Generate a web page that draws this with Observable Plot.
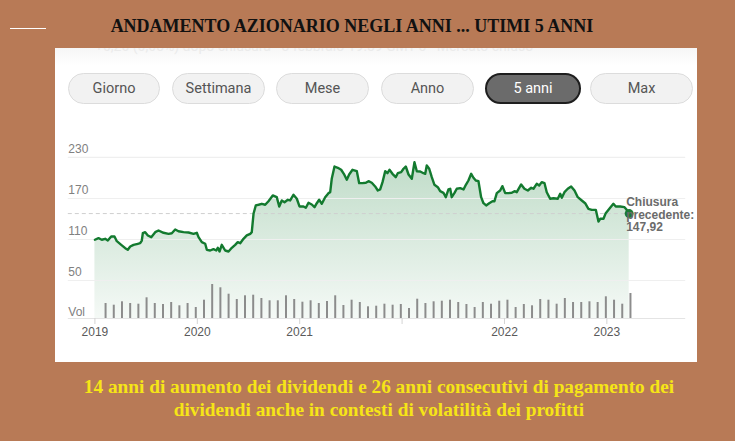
<!DOCTYPE html>
<html><head><meta charset="utf-8">
<script src="https://cdn.jsdelivr.net/npm/d3@7"></script>
<script src="https://cdn.jsdelivr.net/npm/@observablehq/plot@0.6"></script>
<style>
html,body{margin:0;padding:0;}
body{width:735px;height:441px;overflow:hidden;background:#b87a56;position:relative;}
#title{position:absolute;left:0;width:704px;top:16px;line-height:22px;text-align:center;font:bold 18px "Liberation Serif",serif;color:#111;}
#dash{position:absolute;left:10px;top:28px;width:36px;height:1px;background:#fff;}
#panel{position:absolute;left:55px;top:48px;width:642px;height:314px;background:linear-gradient(#f6f6f6 0px,#ffffff 18px);overflow:hidden;}
#faint{position:absolute;left:40px;top:-10px;font:14px Roboto,sans-serif;color:#ebebeb;white-space:nowrap;}
.pill{position:absolute;top:25px;height:31px;border:1px solid #dcdcdc;border-radius:16px;background:#f2f2f2;font:14.5px Roboto,sans-serif;color:#555;display:flex;align-items:center;justify-content:center;box-sizing:border-box;}
.pill.on{background:#6b6b6b;border:2px solid #1e1e1e;color:#fff;}
#chart{position:absolute;left:0;top:82px;}
#caption{position:absolute;left:0;width:758px;top:375px;text-align:center;font:bold 19.3px "Liberation Serif",serif;color:#f6e516;line-height:23px;}
</style></head>
<body>
<div id="dash"></div>
<div id="title">ANDAMENTO AZIONARIO NEGLI ANNI ... UTIMI 5 ANNI</div>
<div id="panel">
  <div id="faint">+0,20 (0,05%) dopo chiusura · 3 febbraio 19:59 GMT-5 · Mercato chiuso</div>
  <div id="pills"></div>
  <div id="chart"></div>
</div>
<div id="caption">14 anni di aumento dei dividendi e 26 anni consecutivi di pagamento dei<br>dividendi anche in contesti di volatilità dei profitti</div>
<script>
// ---- data ----
const ranges = ["Giorno","Settimana","Mese","Anno","5 anni","Max"];
const activeRange = "5 anni";
const yTicks = [50, 110, 170, 230];
const xTickPos = [0, 1, 2, 3, 4, 5];
const xTickLabels = ["2019", "2020", "2021", "", "2022", "2023"];
// time in years from the first tick
const priceT = [0,0.035,0.067,0.10,0.126,0.159,0.191,0.214,0.257,0.296,0.321,0.345,0.377,0.419,0.442,0.458,0.468,0.491,0.517,0.55,0.589,0.621,0.67,0.719,0.751,0.784,0.816,0.865,0.914,0.963,0.995,1.012,1.044,1.077,1.093,1.126,1.158,1.185,1.20,1.217,1.239,1.272,1.305,1.337,1.37,1.395,1.419,1.451,1.483,1.517,1.532,1.549,1.571,1.598,1.63,1.663,1.695,1.737,1.776,1.80,1.825,1.852,1.884,1.907,1.939,1.972,1.998,2.037,2.06,2.086,2.118,2.145,2.167,2.19,2.216,2.249,2.281,2.298,2.313,2.34,2.372,2.405,2.431,2.46,2.483,2.516,2.558,2.581,2.613,2.646,2.672,2.704,2.737,2.763,2.786,2.809,2.835,2.857,2.877,2.906,2.938,2.958,2.991,3.014,3.036,3.063,3.095,3.121,3.144,3.177,3.209,3.226,3.241,3.265,3.29,3.316,3.349,3.372,3.404,3.427,3.453,3.47,3.485,3.512,3.534,3.567,3.60,3.623,3.648,3.675,3.697,3.72,3.746,3.772,3.795,3.821,3.851,3.883,3.902,3.925,3.958,3.98,4.007,4.039,4.071,4.098,4.12,4.163,4.195,4.228,4.261,4.283,4.315,4.339,4.364,4.391,4.413,4.446,4.479,4.521,4.544,4.56,4.586,4.618,4.651,4.684,4.716,4.755,4.788,4.82,4.853,4.892,4.918,4.935,4.967,4.989,5.032,5.064,5.087,5.13,5.172,5.194,5.204,5.218];
const priceV = [109.6,111.9,109.6,111,108.5,114.4,114.4,107.5,102.2,97.3,94.9,99.8,102.2,103.7,104.6,108.5,119.2,120.7,115.9,113.4,120.7,123.2,119.8,118.3,119.2,124.6,122.1,120.7,120.2,118.3,119.8,113.4,106.1,103.7,94.9,93.9,95.8,93.9,97.8,92.4,102.2,93.9,92.4,97.8,102.2,106.1,104.6,111,115.9,118.3,120.7,147.6,159.8,160.8,162.2,160.8,166,174.4,171.9,158.3,167.1,164.6,168.1,167.1,175.4,169.6,158.3,158.3,156.4,163.7,161.2,157.3,163.1,168.1,162.2,171.9,177.8,179.2,198.8,216.8,214.9,212,206.1,197.4,205.1,212,209.9,192.4,192.4,193,195.3,193,187.6,181.7,183.2,193.9,209.9,207,212,206.1,201.2,207,208.5,213.5,216.8,205.1,198.8,223.1,209.9,209.5,207,206.1,218.3,213.5,201.2,190,186.5,180.7,178.3,171.9,183.2,184.2,171.9,178.3,184.2,185.1,183.2,190,196.3,206.1,200.3,196.3,195.3,171.9,163.1,159.8,163.1,166,166,177.8,181.7,188,177.8,177.8,178.3,180.7,179.2,190.5,184.2,181.7,185.7,184.2,191.5,189,193.9,192.4,179.2,169.6,170.4,169.6,176.8,171,179.2,184.2,187.6,181.7,171.9,167.1,163.1,154.9,153.4,153.4,136.3,140.3,140.3,148.5,156.4,162.2,158.3,158.3,157.3,153.4,145.1,147.92];
// monthly volume (relative units)
const volStart = 0.104, volStep = 0.0801;
const volume = [15,13.3,16.7,15,14.3,20.7,15,14,16,12.7,15,11,18.3,34,30.7,24.3,19,22.7,23.3,20,17.7,17.7,22.7,19,16.3,17.7,15,17,22.7,13,18.3,16,11.7,12.3,14.3,13.3,14,10,19.3,15,16.7,17.3,18.3,16,14,11,16,14.3,17.3,18.3,11,14,12.7,19,18.3,14.3,20,16,16,16.7,16,21.7,18.3,14.3,25];
const lastClose = 147.92;
const lastCloseLabel = "Chiusura\nprecedente:\n147,92";

// ---- pills ----
const pillBoxes = [[13,92],[117,93],[221,93],[326,93],[430,96],[535,103]];
const pills = document.getElementById("pills");
ranges.forEach((r,i)=>{
  const d = document.createElement("div");
  d.className = "pill" + (r===activeRange ? " on" : "");
  d.style.left = pillBoxes[i][0]+"px"; d.style.width = pillBoxes[i][1]+"px";
  d.textContent = r; pills.appendChild(d);
});

// ---- chart ----
const price = priceT.map((t,i)=>({t, v: priceV[i]}));
const vols = volume.map((v,i)=>({t: volStart + i*volStep, v}));
const yBase = -5.6, volK = 1.4634;
const lastT = priceT[priceT.length-1];

const defs = () => {
  const s = d3.create("svg:defs");
  const g = s.append("linearGradient").attr("id","areaGrad").attr("x1",0).attr("y1",0).attr("x2",0).attr("y2",1);
  g.append("stop").attr("offset","0%").attr("stop-color","#2e8b4a").attr("stop-opacity",0.3);
  g.append("stop").attr("offset","100%").attr("stop-color","#2e8b4a").attr("stop-opacity",0.05);
  return s.node();
};

const chart = Plot.plot({
  width: 642, height: 218,
  marginLeft: 12.8, marginRight: 11.8, marginTop: 13.3, marginBottom: 30,
  x: {domain: [-0.26, 5.77]},
  y: {domain: [yBase, 250], axis: null},
  style: {background: "transparent", fontFamily: "'Liberation Sans', Arial, sans-serif"},
  marks: [
    defs,
    Plot.areaY(price, {x: "t", y1: yBase, y2: "v", fill: "url(#areaGrad)", curve: "linear"}),
    Plot.ruleY(yTicks, {stroke: "#efefef", strokeWidth: 1.2}),
    Plot.ruleY([lastClose], {x1: -0.26, x2: lastT, stroke: "#cfcfcf", strokeDasharray: "4,3"}),
    Plot.ruleX(vols, {x: "t", y1: yBase, y2: d => yBase + d.v*volK, stroke: "#8c8c8c", strokeWidth: 2}),
    Plot.ruleY([yBase], {stroke: "#e4e4e4"}),
    Plot.axisX({ticks: xTickPos, tickFormat: d => xTickLabels[xTickPos.indexOf(d)], tickSize: 6, tickPadding: 3,
      stroke: "#d4d4d4", fill: "#5a5a5a", fontSize: 12, label: null}),
    Plot.lineY(price, {x: "t", y: "v", stroke: "#137a2f", strokeWidth: 2.4}),
    Plot.dot([{t: lastT, v: lastClose}], {x: "t", y: "v", r: 4.5, fill: "#1b7a35"}),
    Plot.text(yTicks, {frameAnchor: "left", y: d => d, text: d => String(d), textAnchor: "start", dy: -8, fill: "#808080", fontSize: 12}),
    Plot.text(["Vol"], {frameAnchor: "left", y: yBase, textAnchor: "start", dy: -6, fill: "#808080", fontSize: 12}),
    Plot.text([lastCloseLabel], {x: lastT, y: lastClose, text: d => d, textAnchor: "start", lineAnchor: "middle", lineHeight: 1.05, dx: -3, dy: 1, fill: "#6b6b6b", fontWeight: "bold", fontSize: 12})
  ]
});
document.getElementById("chart").appendChild(chart);
</script>
</body></html>
